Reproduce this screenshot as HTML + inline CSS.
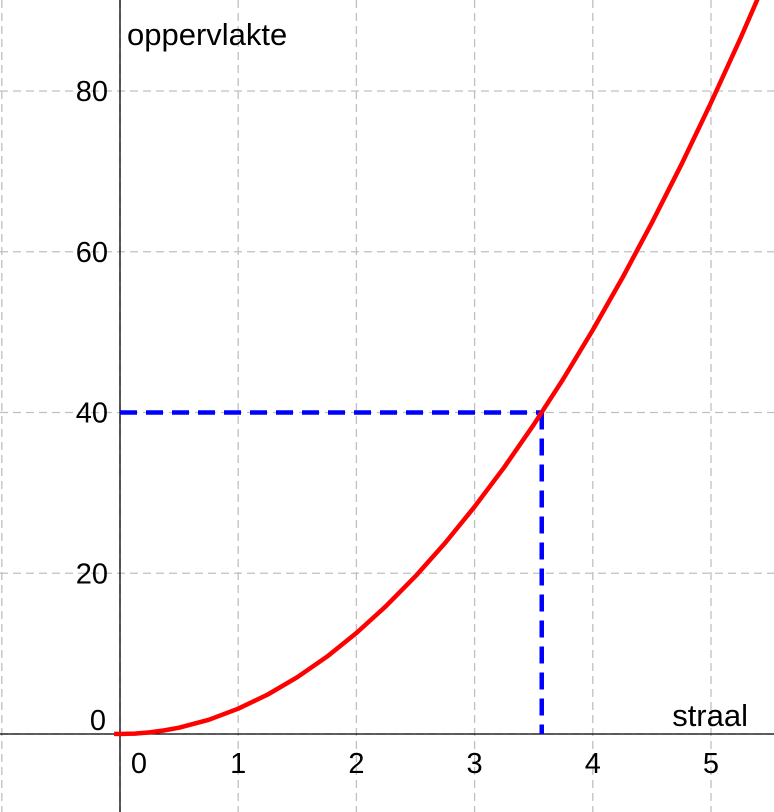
<!DOCTYPE html>
<html><head><meta charset="utf-8"><style>
html,body{margin:0;padding:0;background:#fff;}
svg{display:block;font-family:"Liberation Sans",sans-serif;}
</style></head><body>
<svg id="chart" width="774" height="812" viewBox="0 0 774 812" xmlns="http://www.w3.org/2000/svg">
<g id="grid"></g>
<g id="axes"></g>
<g id="marks"></g>
</svg>
<script>
const xTicks = [0,1,2,3,4,5];
const xGrid = [-1,0,1,2,3,4,5];
const yTicks = [0,20,40,60,80];
const radius = [-0.05,0,0.125,0.25,0.375,0.5,0.75,1,1.25,1.5,1.75,2,2.25,2.5,2.75,3,3.25,3.5,3.75,4,4.25,4.5,4.75,5,5.25,5.5];
const area = [0.008,0,0.049,0.196,0.442,0.785,1.767,3.142,4.909,7.069,9.621,12.566,15.904,19.635,23.758,28.274,33.183,38.485,44.179,50.265,56.745,63.617,70.882,78.540,86.590,95.033];
const markerR = [3.568];
const markerA = [40];

const NS="http://www.w3.org/2000/svg";
const X = v => 120 + v*118.2;
const Y = v => 734 - v*8.0375;
function mk(tag, attrs, parent, text){
  const e=document.createElementNS(NS,tag);
  for(const k in attrs) e.setAttribute(k,attrs[k]);
  if(text!==undefined) e.textContent=text;
  parent.appendChild(e); return e;
}
const grid=document.getElementById('grid'), axes=document.getElementById('axes'), marks=document.getElementById('marks');
xGrid.forEach(v=>{
  const l=mk('line',{x1:X(v),x2:X(v),y1:0,y2:812,stroke:'#c0c0c0','stroke-width':1.3,'stroke-dasharray':'8,5'},grid);
  
  
});
yTicks.forEach(v=>{
  const l=mk('line',{x1:0,x2:774,y1:Y(v),y2:Y(v),stroke:'#c0c0c0','stroke-width':1.3,'stroke-dasharray':'8,5'},grid);
  
  
});
const xa=mk('line',{x1:0,x2:774,y1:Y(0),y2:Y(0),stroke:'#000','stroke-width':1.3},axes);


const ya=mk('line',{x1:X(0),x2:X(0),y1:0,y2:812,stroke:'#000','stroke-width':1.3},axes);


xTicks.forEach(v=>{
  const t=mk('text',{x:v===0?X(0)+19:X(v),y:773,'font-size':29,'text-anchor':'middle'},axes,String(v));
  
  
});
yTicks.forEach(v=>{
  const t=mk('text',{x:v===0?106:108,y:v===0?Y(v)-4:Y(v)+10,'font-size':29,'text-anchor':'end'},axes,String(v));
  
  
});
const yt=mk('text',{x:127,y:45,'font-size':31},axes,'oppervlakte');


const xt=mk('text',{x:748,y:726,'font-size':31,'text-anchor':'end'},axes,'straal');



markerR.forEach((r,i)=>{
  const a=markerA[i];
  const h=mk('line',{x1:X(0),x2:X(r),y1:Y(a),y2:Y(a),stroke:'#0000ff','stroke-width':4.5,'stroke-dasharray':'17,9'},marks);
  
  
  const v=mk('line',{x1:X(r),x2:X(r),y1:Y(a),y2:Y(0),stroke:'#0000ff','stroke-width':4.5,'stroke-dasharray':'17,9'},marks);
  
  
});
let d='';
radius.forEach((r,i)=>{ d+=(i?'L':'M')+X(r).toFixed(1)+','+Y(area[i]).toFixed(1); });
const c=mk('path',{d:d,fill:'none',stroke:'#ff0000','stroke-width':4.5,'stroke-linejoin':'round'},marks);


</script>
</body></html>
